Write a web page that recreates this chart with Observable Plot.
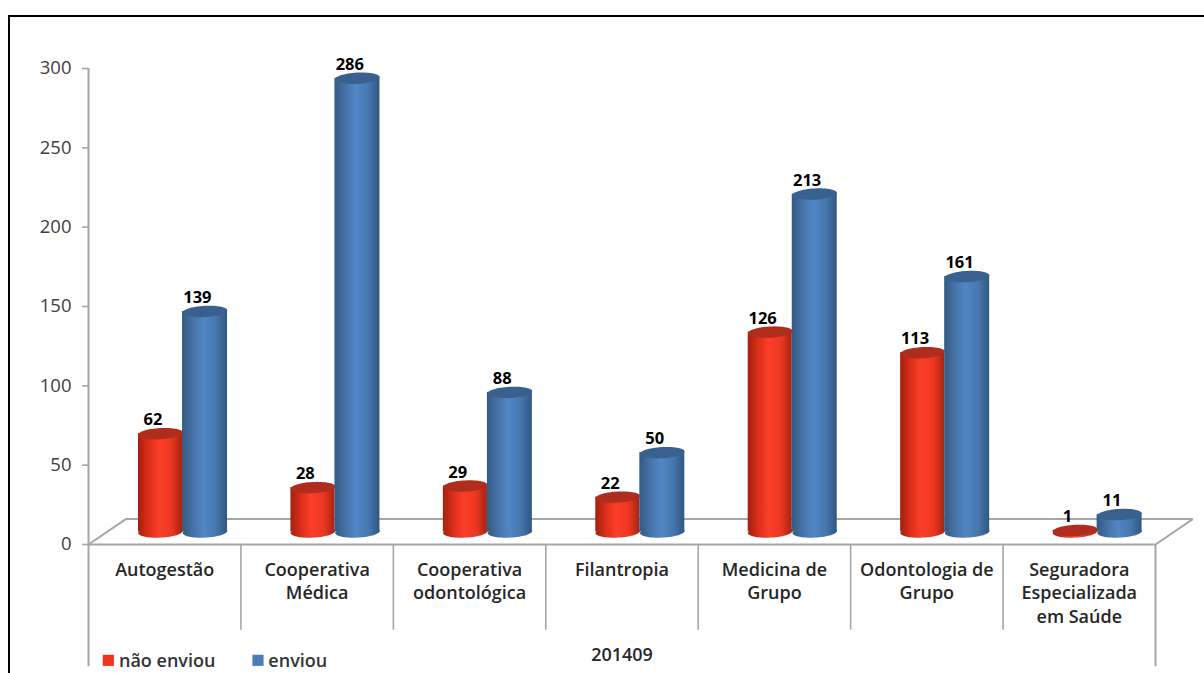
<!DOCTYPE html>
<html><head><meta charset="utf-8">
<script src="https://cdn.jsdelivr.net/npm/d3@7"></script>
<script src="https://cdn.jsdelivr.net/npm/@observablehq/plot@0.6"></script>
<style>html,body{margin:0;padding:0;background:#fff}svg{display:block}</style>
</head><body><div id="chart"></div>
<script>
const categories = ["Autogestão","Cooperativa\nMédica","Cooperativa\nodontológica","Filantropia","Medicina de\nGrupo","Odontologia de\nGrupo","Seguradora\nEspecializada\nem Saúde"];
const naoEnviou = [62,28,29,22,126,113,1];
const enviou = [139,286,88,50,213,161,11];
const yTicks = [0,50,100,150,200,250,300];
const period = "201409";
const seriesNames = ["não enviou","enviou"];

const FONT = "'Open Sans', sans-serif";
const rows = [];
categories.forEach((c,i)=>{
  rows.push({i,c,s:0,v:naoEnviou[i]});
  rows.push({i,c,s:1,v:enviou[i]});
});
const red = rows.filter(d=>d.s===0), blue = rows.filter(d=>d.s===1);

// bar geometry within a category unit
const barStart = [0.328,0.617], barEnd=[0.617,0.912];
const mid = d => d.i + (barStart[d.s]+barEnd[d.s])/2;
const baseDy = -12.5;
const depthX = 0.245, depthY = 16;
// the original's data labels sit left of the cylinders' centres
const labelX = d => mid(d) - 0.05;

const ellipse = (rx,ry,deg)=>({draw(ctx){
  const t=deg*Math.PI/180, n=60;
  for(let k=0;k<n;k++){
    const a=k/n*2*Math.PI, x=rx*Math.cos(a), y=ry*Math.sin(a);
    const X=x*Math.cos(t)-y*Math.sin(t), Y=x*Math.sin(t)+y*Math.cos(t);
    k?ctx.lineTo(X,Y):ctx.moveTo(X,Y);
  }
  ctx.closePath();
}});
const capSym = ellipse(22.3,5.6,-3);

function defs(){
  const ns="http://www.w3.org/2000/svg";
  const d=document.createElementNS(ns,"defs");
  const grads={gr:["#a3200f","#dd2f1b","#fb3f28","#ec3721","#a62411"],gb:["#34597f","#4674aa","#5086c4","#4678ae","#30577f"]};
  for(const id in grads){
    const g=document.createElementNS(ns,"linearGradient");
    g.setAttribute("id",id);
    grads[id].forEach((c,k)=>{
      const s=document.createElementNS(ns,"stop");
      s.setAttribute("offset",[0,0.25,0.48,0.75,1][k]);
      s.setAttribute("stop-color",c);
      g.appendChild(s);
    });
    d.appendChild(g);
  }
  return d;
}

const cyl = (data,grad,top)=>[
  Plot.dot(data,{x:mid,y:()=>0,r:1,symbol:capSym,fill:grad,stroke:"none",dy:baseDy}),
  Plot.rectY(data,{x1:d=>d.i+barStart[d.s],x2:d=>d.i+barEnd[d.s],y1:()=>0,y2:"v",fill:grad,dy:baseDy}),
  Plot.dot(data,{x:mid,y:"v",r:1,symbol:capSym,fill:top,stroke:"none",dy:baseDy})
];

const chart = Plot.plot({
  width:1204,height:673,
  marginLeft:88,marginRight:49,marginTop:68,marginBottom:129,
  style:{fontFamily:FONT,background:"#fff",overflow:"visible"},
  x:{type:"linear",domain:[0,7],axis:null},
  y:{domain:[0,300],axis:null},
  marks:[
    defs,
    // floor
    Plot.ruleX([0],{y1:300,y2:-77,stroke:"#a6a6a6",strokeWidth:2}),
    Plot.ruleX([7],{y1:0,y2:-77,stroke:"#a6a6a6",strokeWidth:2}),
    Plot.ruleX([1,2,3,4,5,6],{y1:0,y2:-54,stroke:"#a6a6a6",strokeWidth:1.6}),
    Plot.ruleY([0],{x1:0,x2:7,stroke:"#a6a6a6",strokeWidth:2}),
    Plot.ruleY([depthY],{x1:depthX,x2:7+depthX,stroke:"#a6a6a6",strokeWidth:2}),
    Plot.link([{a:0},{a:7}],{x1:"a",y1:()=>0,x2:d=>d.a+depthX,y2:()=>depthY,stroke:"#a6a6a6",strokeWidth:2}),
    Plot.axisY({ticks:yTicks,tickSize:6,tickPadding:11,tickFormat:d=>String(d),stroke:"#a6a6a6",strokeWidth:1.6,fontSize:18.5,fill:"#404040",label:null}),
    // bars
    ...cyl(red,"url(#gr)","#b02c1c"),
    ...cyl(blue,"url(#gb)","#38618f"),
    // value labels
    Plot.text(rows,{x:labelX,y:"v",text:d=>String(d.v),dy:baseDy-13.5,fontSize:16.5,fontWeight:700,fill:"#000"}),
    // category labels
    Plot.text(categories,{x:(d,i)=>i+0.5,y:()=>0,text:d=>d,dy:14,lineAnchor:"top",lineHeight:1.33,fontSize:18,fontWeight:600,fill:"#262626"}),
    Plot.text([period],{x:()=>3.5,y:()=>-69.5,text:d=>d,fontSize:18,fontWeight:600,fill:"#262626"}),
    // legend
    Plot.dot(seriesNames,{x:(d,i)=>[0.13,1.112][i],y:()=>-73,symbol:"square",r:6.3,fill:(d,i)=>["#f0341e","#4a7cb8"][i],stroke:"none"}),
    Plot.text(seriesNames,{x:(d,i)=>[0.2,1.18][i],y:()=>-73.5,text:d=>d,textAnchor:"start",fontSize:18,fontWeight:600,fill:"#333"})
  ]
});
document.getElementById("chart").appendChild(chart);
// picture frame: top and left black edge
const ns="http://www.w3.org/2000/svg";
for(const [x1,y1,x2,y2] of [[9,16,9,673],[8,16,1204,16]]){
  const l=document.createElementNS(ns,"line");
  l.setAttribute("x1",x1);l.setAttribute("y1",y1);l.setAttribute("x2",x2);l.setAttribute("y2",y2);
  l.setAttribute("stroke","#000");l.setAttribute("stroke-width",2);
  chart.appendChild(l);
}
</script></body></html>
